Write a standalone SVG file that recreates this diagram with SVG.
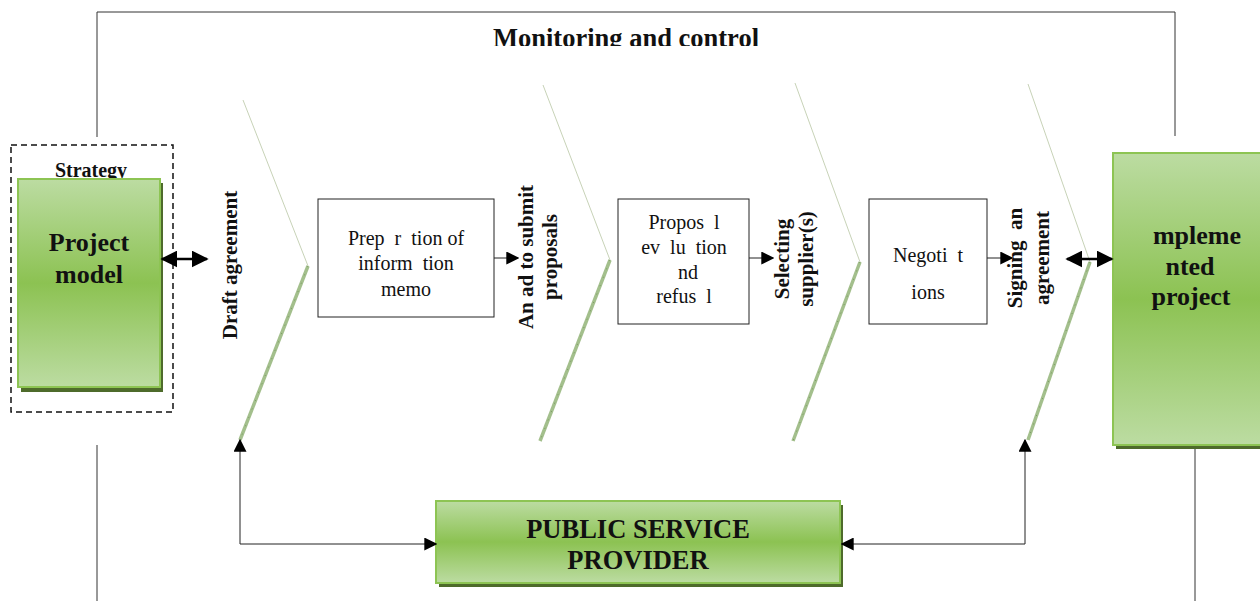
<svg xmlns="http://www.w3.org/2000/svg" width="1260" height="601" viewBox="0 0 1260 601">
<defs>
<linearGradient id="g" x1="0" y1="0" x2="0" y2="1">
<stop offset="0" stop-color="#bcdca2"/>
<stop offset="0.5" stop-color="#8cc252"/>
<stop offset="1" stop-color="#bcdca2"/>
</linearGradient>
<marker id="ahm" viewBox="0 0 10 10" refX="9" refY="5" markerWidth="13" markerHeight="13" orient="auto-start-reverse" markerUnits="userSpaceOnUse">
<path d="M0,0 L10,5 L0,10 z" fill="#000"/>
</marker>
<marker id="ahb" viewBox="0 0 10 10" refX="9" refY="5" markerWidth="17" markerHeight="17" orient="auto-start-reverse" markerUnits="userSpaceOnUse">
<path d="M0,0 L10,5 L0,10 z" fill="#000"/>
</marker>
<clipPath id="mc"><rect x="0" y="0" width="1260" height="46"/></clipPath>
</defs>
<style>
.frame{fill:none;stroke:#333;stroke-width:1}
.gbox{fill:url(#g);stroke:#8dc453;stroke-width:2}
.shadow{fill:#4e6b2b}
.box{fill:#fff;stroke:#222;stroke-width:1}
.bt{font-family:"Liberation Serif",serif;font-weight:bold;fill:#111;text-anchor:middle;white-space:pre}
.nt{font-family:"Liberation Serif",serif;fill:#111;text-anchor:middle;font-size:20px;white-space:pre}
.thin{fill:none;stroke:#b9c6a4;stroke-width:0.8}
.thick{fill:none;stroke:#a3bf8c;stroke-width:3.5}
.hatch{fill:none;stroke:#6f8f56;stroke-width:0.8;stroke-dasharray:1 8}
.con{fill:none;stroke:#222;stroke-width:1}
.dbl{fill:none;stroke:#000;stroke-width:2.5}
</style>

<g id="frame">
<path class="frame" d="M97,137 V12 H1175 V136"/>
<path class="frame" d="M97,445 V601"/>
<path class="frame" d="M1195,445 V601"/>
<text class="bt" x="626" y="47" font-size="26.5" clip-path="url(#mc)">Monitoring and control</text>
</g>

<g id="chevrons">
<path class="thin" d="M243,100 L308,266"/>
<path class="thick" d="M308,266 L240,440"/>
<path class="hatch" d="M308,266 L240,440"/>
<path class="thin" d="M543,85 L610,260"/>
<path class="thick" d="M610,260 L540,441"/>
<path class="hatch" d="M610,260 L540,441"/>
<path class="thin" d="M795,83 L860,262"/>
<path class="thick" d="M860,262 L793,441"/>
<path class="hatch" d="M860,262 L793,441"/>
<path class="thin" d="M1028,84 L1090,262"/>
<path class="thick" d="M1090,262 L1028,440"/>
<path class="hatch" d="M1090,262 L1028,440"/>
</g>

<g id="strategy">
<rect x="11" y="145" width="162" height="267" fill="none" stroke="#111" stroke-width="1.5" stroke-dasharray="6 4"/>
<text class="bt" x="91" y="177" font-size="20">Strategy</text>
</g>

<g id="project-model">
<rect class="shadow" x="21" y="183" width="142" height="209"/>
<rect class="gbox" x="18" y="179" width="142" height="208"/>
<text class="bt" x="89" y="251" font-size="26">Project</text>
<text class="bt" x="89" y="283" font-size="26">model</text>
</g>

<g id="draft-agreement">
<text class="bt" font-size="21" transform="translate(237,265) rotate(-90)">Draft agreement</text>
</g>

<g id="prep">
<rect class="box" x="318" y="199" width="176" height="118"/>
<text class="nt" x="406" y="245">Prep  r  tion of</text>
<text class="nt" x="406" y="270">inform  tion</text>
<text class="nt" x="406" y="296">memo</text>
</g>

<g id="ad-label">
<text class="bt" font-size="21" transform="translate(533,257) rotate(-90)">An ad to submit</text>
<text class="bt" font-size="21" transform="translate(557,257) rotate(-90)">proposals</text>
</g>

<g id="proposal">
<rect class="box" x="618" y="199" width="131" height="125"/>
<text class="nt" x="684" y="229">Propos  l</text>
<text class="nt" x="684" y="254">ev  lu  tion</text>
<text class="nt" x="688" y="279">nd</text>
<text class="nt" x="684" y="303">refus  l</text>
</g>

<g id="selecting-label">
<text class="bt" font-size="21" transform="translate(789,259) rotate(-90)">Selecting</text>
<text class="bt" font-size="21" transform="translate(813,259) rotate(-90)">supplier(s)</text>
</g>

<g id="negotiations">
<rect class="box" x="869" y="199" width="118" height="125"/>
<text class="nt" x="928" y="262">Negoti  t</text>
<text class="nt" x="928" y="299">ions</text>
</g>

<g id="signing-label">
<text class="bt" font-size="21" transform="translate(1022,258) rotate(-90)">Signing  an</text>
<text class="bt" font-size="21" transform="translate(1049,258) rotate(-90)">agreement</text>
</g>

<g id="implemented">
<rect class="shadow" x="1116" y="157" width="150" height="292"/>
<rect class="gbox" x="1113" y="153" width="150" height="292"/>
<text class="bt" x="1197" y="244" font-size="26">mpleme</text>
<text class="bt" x="1190" y="275" font-size="26">nted</text>
<text class="bt" x="1191" y="305" font-size="26">project</text>
</g>

<g id="psp">
<rect class="shadow" x="439" y="505" width="404" height="82"/>
<rect class="gbox" x="436" y="501" width="404" height="82"/>
<text class="bt" x="638" y="538" font-size="26.5">PUBLIC SERVICE</text>
<text class="bt" x="638" y="569" font-size="26.5">PROVIDER</text>
</g>

<g id="connectors">
<path class="dbl" d="M162,259 H207" marker-start="url(#ahb)" marker-end="url(#ahb)"/>
<path class="dbl" d="M1067,259 H1112" marker-start="url(#ahb)" marker-end="url(#ahb)"/>
<path class="con" d="M494,258 H518" marker-end="url(#ahm)"/>
<path class="con" d="M749,258 H773" marker-end="url(#ahm)"/>
<path class="con" d="M987,258 H1012" marker-end="url(#ahm)"/>
<path class="con" d="M240,440 V544 H436" marker-start="url(#ahm)" marker-end="url(#ahm)"/>
<path class="con" d="M1025,440 V544 H842" marker-start="url(#ahm)" marker-end="url(#ahm)"/>
</g>
</svg>
